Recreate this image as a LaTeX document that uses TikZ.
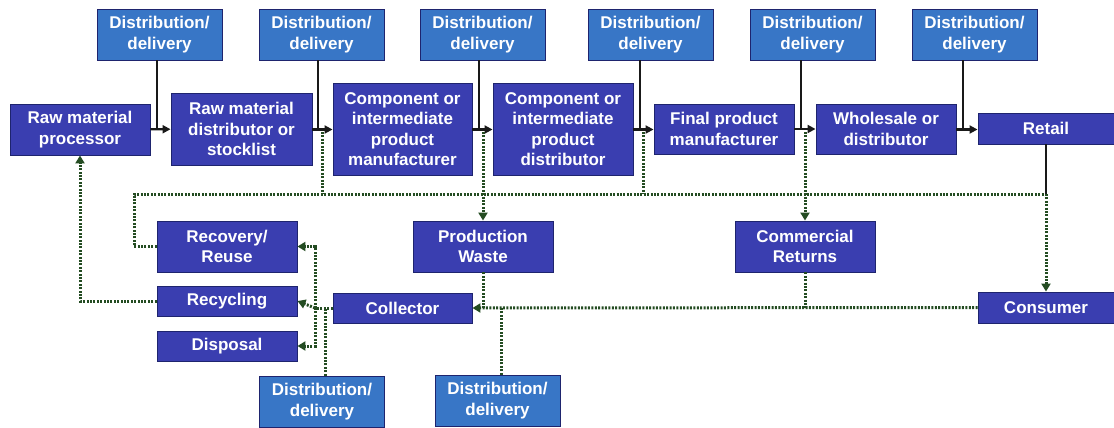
\documentclass[tikz,border=0pt]{standalone}
\usepackage{fontspec}
\setmainfont{Liberation Sans}
\usetikzlibrary{arrows.meta,calc}
\definecolor{mainblue}{RGB}{58,62,176}
\definecolor{distblue}{RGB}{56,118,198}
\definecolor{edgeblue}{RGB}{30,36,110}
\definecolor{dotgreen}{RGB}{36,76,34}
\begin{document}
\begin{tikzpicture}[x=1pt,y=-1pt,
 box/.style={draw=edgeblue, line width=0.9pt, text=white, font=\fontsize{17}{20.5}\selectfont\bfseries, align=center, inner sep=0pt, anchor=center},
 mainbox/.style={box, fill=mainblue},
 distbox/.style={box, fill=distblue, minimum width=125pt, minimum height=51pt},
 flow/.style={line width=2.2pt, draw=black!90, -{Triangle[length=8pt,width=8pt]}},
 feed/.style={line width=2.2pt, draw=black!90},
 ret/.style={line width=3pt, draw=dotgreen, dash pattern=on 2pt off 1.4pt},
 retarrow/.style={ret, -{Triangle[length=8pt,width=9pt]}},
]
\useasboundingbox (0,0) rectangle (1114,428);

% top distribution boxes
\node[distbox] (d1) at (159.5,34.5) {Distribution/\\delivery};
\node[distbox] (d2) at (321.5,34.5) {Distribution/\\delivery};
\node[distbox] (d3) at (482.5,34.5) {Distribution/\\delivery};
\node[distbox] (d4) at (650.5,34.5) {Distribution/\\delivery};
\node[distbox] (d5) at (812.5,34.5) {Distribution/\\delivery};
\node[distbox] (d6) at (974.5,34.5) {Distribution/\\delivery};

% main chain
\node[mainbox, minimum width=140pt, minimum height=51pt] (rmp) at (80,129.5) {Raw material\\processor};
\node[mainbox, minimum width=141pt, minimum height=72pt] (rmd) at (241.5,129) {Raw material\\distributor or\\stocklist};
\node[mainbox, minimum width=139pt, minimum height=92pt] (cm) at (402.5,129) {Component or\\intermediate\\product\\manufacturer};
\node[mainbox, minimum width=140pt, minimum height=92pt] (cd) at (563,129) {Component or\\intermediate\\product\\distributor};
\node[mainbox, minimum width=140pt, minimum height=50pt] (fpm) at (724,129) {Final product\\manufacturer};
\node[mainbox, minimum width=140pt, minimum height=50pt] (ws) at (886,129) {Wholesale or\\distributor};
\node[mainbox, minimum width=136pt, minimum height=31pt] (retail) at (1046,128.5) {Retail};

% lower boxes
\node[mainbox, minimum width=140pt, minimum height=51pt] (rec) at (227,246.5) {Recovery/\\Reuse};
\node[mainbox, minimum width=140pt, minimum height=30pt] (recy) at (227,301) {Recycling};
\node[mainbox, minimum width=140pt, minimum height=30pt] (disp) at (227,346) {Disposal};
\node[mainbox, minimum width=139pt, minimum height=30pt] (col) at (402.5,308) {Collector};
\node[mainbox, minimum width=140pt, minimum height=51pt] (pw) at (483,246.5) {Production\\Waste};
\node[mainbox, minimum width=140pt, minimum height=51pt] (cr) at (805,246.5) {Commercial\\Returns};
\node[mainbox, minimum width=136pt, minimum height=31pt] (cons) at (1046,307.5) {Consumer};
\node[distbox] (d7) at (322,401.5) {Distribution/\\delivery};
\node[distbox] (d8) at (497.5,400.5) {Distribution/\\delivery};

% forward flow
\draw[flow] (rmp) -- (rmd);
\draw[flow] (rmd.east |- rmp.east) -- (cm.west |- rmp.east);
\draw[flow] (cm.east |- rmp.east) -- (cd.west |- rmp.east);
\draw[flow] (cd.east |- rmp.east) -- (fpm.west |- rmp.east);
\draw[flow] (fpm) -- (ws);
\draw[flow] (ws.east |- rmp.east) -- (retail.west |- rmp.east);

\draw[feed] ([xshift=-2.5pt]d1.south) -- ([xshift=-2.5pt]d1.south |- rmp.east);
\draw[feed] ([xshift=-3.5pt]d2.south) -- ([xshift=-3.5pt]d2.south |- rmp.east);
\draw[feed] ([xshift=-3.5pt]d3.south) -- ([xshift=-3.5pt]d3.south |- rmp.east);
\draw[feed] ([xshift=-10.5pt]d4.south) -- ([xshift=-10.5pt]d4.south |- rmp.east);
\draw[feed] ([xshift=-11.5pt]d5.south) -- ([xshift=-11.5pt]d5.south |- rmp.east);
\draw[feed] ([xshift=-11.5pt]d6.south) -- ([xshift=-11.5pt]d6.south |- rmp.east);

% return network
\coordinate (busL) at (134,194);
\coordinate (busR) at (retail.south |- busL);
\coordinate (t2) at (322,132);
\coordinate (t4) at (643,132);
\draw[ret] (rec.west) -| (busL) -- (busR);
\draw[feed] (retail.south) -- (busR);
\draw[retarrow] (busR) -- (cons.north);
\draw[ret] (t2) -- (t2 |- busL);
\draw[ret] (t4) -- (t4 |- busL);
\draw[retarrow] (pw.north |- t2) -- (pw.north);
\draw[retarrow] (cr.north |- t2) -- (cr.north);

\draw[retarrow] (cons.west) -- (col.east);
\draw[ret] (pw.south) -- (pw.south |- col.east);
\draw[ret] (cr.south) -- (cr.south |- col.east);
\draw[ret] ([xshift=3.5pt]d8.north) -- ([xshift=3.5pt]d8.north |- col.east);

\coordinate (sp) at (315,308);
\draw[ret] (col.west) -- (sp);
\draw[retarrow] (sp) |- (rec.east);
\draw[retarrow] (sp) -- (recy.east);
\draw[retarrow] (sp) |- (disp.east);
\draw[ret] ([xshift=3pt]d7.north) -- ([xshift=3pt]d7.north |- col.west);

\draw[retarrow] (recy.west) -| (rmp.south);
\end{tikzpicture}
\end{document}
